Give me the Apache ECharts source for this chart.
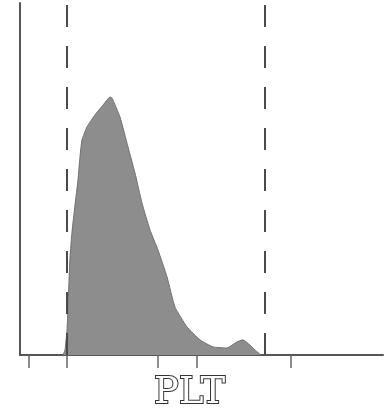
<!DOCTYPE html>
<html>
<head>
<meta charset="utf-8">
<script src="https://cdn.jsdelivr.net/npm/echarts@6/dist/echarts.min.js"></script>
<style>
  html, body { margin: 0; padding: 0; background: #fff; }
  #chart { width: 387px; height: 414px; }
</style>
</head>
<body>
<div id="chart"></div>
<script>
// PLT histogram, volume (fL) vs relative count
const volumes = [4.74, 4.96, 5.18, 5.29, 5.51, 5.73, 6.06, 6.39, 6.61, 6.83, 7.38, 8.26, 9.15, 9.92, 10.14, 11.02, 11.90, 12.67, 13.44, 14.33, 15.21, 16.20, 17.08, 18.40, 19.83, 21.27, 22.81, 23.91, 24.57, 25.34, 26.12, 26.56];
const counts  = [0, 1.4, 7.1, 13.6, 27.8, 34.9, 42.6, 49.7, 56.3, 61.1, 64.8, 68.2, 71.0, 73.3, 73.0, 67.6, 59.1, 51.7, 43.2, 35.5, 29.8, 22.2, 13.6, 8.0, 4.3, 2.3, 2.0, 3.7, 4.3, 2.8, 0.9, 0];
const discriminators = [5.2, 27.0];
const tickValues = [1.0, 5.2, 15.2, 19.5, 29.8];
const axisTitle = 'PLT';

const chart = echarts.init(document.getElementById('chart'));

chart.setOption({
  animation: false,
  grid: { left: 20, right: 4, top: 3, bottom: 59 },
  xAxis: {
    type: 'value',
    min: 0,
    max: 40,
    axisLine: { show: true, onZero: false, lineStyle: { color: '#555', width: 2 } },
    axisTick: { show: true, customValues: tickValues, length: 13, lineStyle: { color: '#666', width: 1.5 } },
    axisLabel: { show: false },
    splitLine: { show: false }
  },
  yAxis: {
    type: 'value',
    min: 0,
    max: 100,
    axisLine: { show: true, lineStyle: { color: '#555', width: 2 } },
    axisTick: { show: false },
    axisLabel: { show: false },
    splitLine: { show: false }
  },
  series: [
    {
      type: 'line',
      data: volumes.map((v, i) => [v, counts[i]]),
      showSymbol: false,
      smooth: 0.15,
      lineStyle: { color: '#707070', width: 1 },
      areaStyle: { color: '#8d8d8d', opacity: 1 },
      markLine: {
        silent: true,
        symbol: 'none',
        label: { show: false },
        lineStyle: { color: '#4a4a4a', width: 2, type: [22, 19] },
        data: discriminators.map(d => ({ xAxis: d }))
      }
    }
  ],
  graphic: [
    {
      type: 'text',
      left: 153,
      top: 374,
      style: {
        text: axisTitle,
        font: '37px "DejaVu Serif"',
        fill: '#fff',
        stroke: '#333',
        lineWidth: 2
      }
    }
  ]
});
</script>
</body>
</html>
